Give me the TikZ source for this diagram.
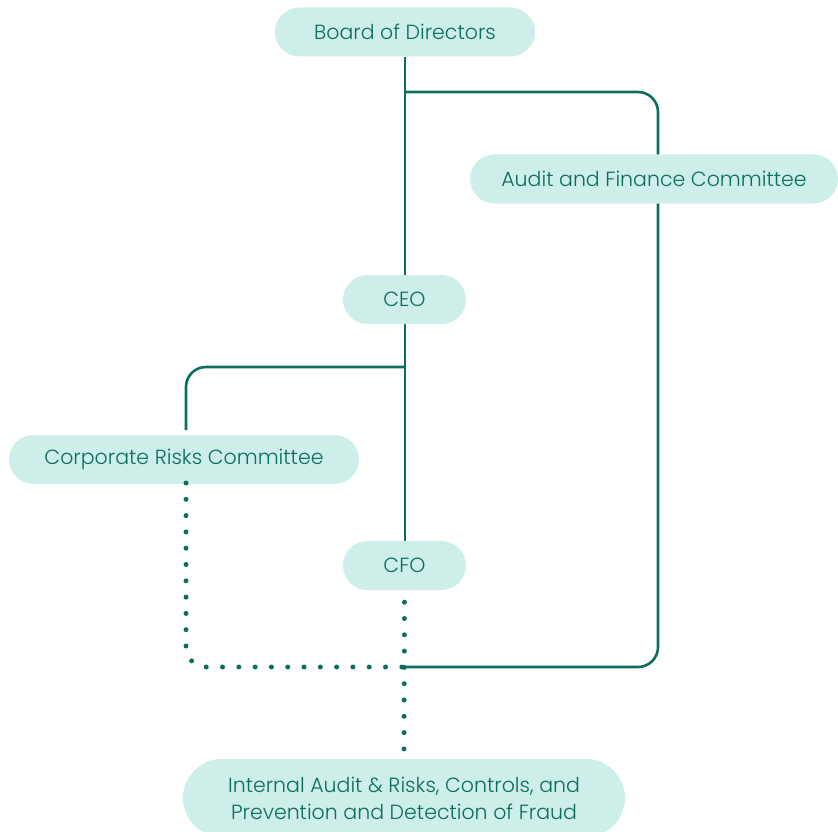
\documentclass[tikz,border=0pt]{standalone}
\usepackage{fontspec}
\setmainfont{Poppins}[UprightFont=* Light]
\definecolor{mint}{RGB}{205,238,233}
\definecolor{ink}{RGB}{12,110,94}
\begin{document}
\begin{tikzpicture}[x=1pt,y=-1pt,
  box/.style={fill=mint, text=ink, inner sep=0pt, minimum height=49pt,
    rounded corners=24.5pt, align=center,
    font=\fontsize{20.5}{27}\selectfont},
  conn/.style={draw=ink, line width=2.6pt, rounded corners=20pt},
  dots/.style={draw=ink, line width=5pt, line cap=round,
    dash pattern=on 0pt off 16.3pt, rounded corners=20pt}]
\useasboundingbox (0,0) rectangle (838,832);

% junction points on the main spine
\coordinate (j1) at (405,92);
\coordinate (j2) at (405,367);
\coordinate (j3) at (405,667);

% solid reporting lines (drawn first, boxes sit on top)
\draw[conn] (j1) -- (658,92) -- (658,667) -- (j3);
\draw[conn] (j2) -- (186,367) -- (186,430);
\draw[conn] (405,57) -- (405,275);
\draw[conn] (405,324) -- (405,541);

% boxes
\node[box, minimum width=260pt] (board) at (405,32) {Board of Directors};
\node[box, minimum width=368pt] (audit) at (654,179) {Audit and Finance Committee};
\node[box, minimum width=123pt] (ceo) at (404.5,299.5) {CEO};
\node[box, minimum width=350pt] (crc) at (184,459.5) {Corporate Risks Committee};
\node[box, minimum width=123pt] (cfo) at (404.5,565.5) {CFO};
\node[box, minimum width=442pt, minimum height=78pt, rounded corners=39pt]
  (ia) at (404,798) {Internal Audit \& Risks, Controls, and\\Prevention and Detection of Fraud};

% dotted reporting lines
\draw[dots] (186,483) -- (186,667) -- (j3);
\draw[dots] ([yshift=-12pt]cfo.south) -- ([yshift=9pt]ia.north);
\end{tikzpicture}
\end{document}
